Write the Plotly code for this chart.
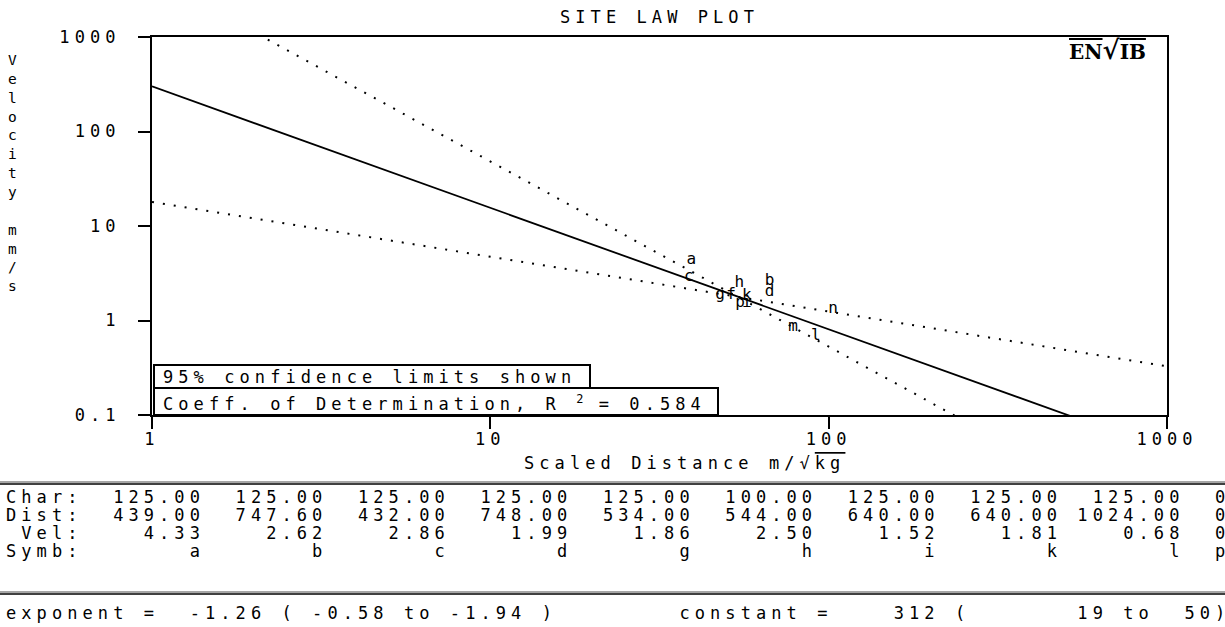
import numpy as np
import plotly.graph_objects as go

# ---------------- data ----------------
title_text = "SITE LAW PLOT"
x_title_main = "Scaled Distance m/√"
x_title_root = "kg"
y_title = "Velocity mm/s"

x_tickvals = [1, 10, 100, 1000]
x_ticktext = ["1", "10", "100", "1000"]
y_tickvals = [0.1, 1, 10, 100, 1000]
y_ticktext = ["0.1", "1", "10", "100", "1000"]

charge = [125.00, 125.00, 125.00, 125.00, 125.00, 100.00, 125.00, 125.00, 125.00]
dist = [439.00, 747.60, 432.00, 748.00, 534.00, 544.00, 640.00, 640.00, 1024.00]
vel = [4.33, 2.62, 2.86, 1.99, 1.86, 2.50, 1.52, 1.81, 0.68]
symb = ["a", "b", "c", "d", "g", "h", "i", "k", "l"]

# further events visible on the plot (scaled distance, velocity)
extra_sd = [51.5, 78.5, 103.0, 54.7]
extra_vel = [1.86, 0.853, 1.32, 1.53]
extra_symb = ["f", "m", "n", "p"]

# regression line and 95% limits as drawn (V = K * SD^b)
fit_const, fit_exp = 300.0, -1.285
lo_const, lo_exp = 18.0, -0.58
hi_const, hi_exp = 4400.0, -1.96
r_squared = 0.584
exp_txt = (-1.26, -0.58, -1.94)
const_txt = (312, 19, 50)

# ---------------- layout helpers ----------------
W, H = 1225, 627
L, R, T, B = 152, 58, 37, 212
PW, PH = W - L - R, H - T - B
FONT = "DejaVu Sans Mono"
FS = 17
LS = 15.3 - 0.602 * FS


def px(xp):
    return (xp - L) / PW


def py(yp):
    return (H - B - yp) / PH


def spaced(s, ls=LS, extra=""):
    s = s.replace(" ", "\u00a0")
    return f"<span style='letter-spacing:{ls:.2f}px;{extra}'>{s}</span>"


fig = go.Figure()

xs = np.array([1.0, 1000.0])
dot = dict(color="black", width=2, dash="2px,9px")
fig.add_trace(go.Scatter(x=xs, y=hi_const * xs ** hi_exp, mode="lines", line=dot, hoverinfo="skip"))
fig.add_trace(go.Scatter(x=xs, y=lo_const * xs ** lo_exp, mode="lines", line=dot, hoverinfo="skip"))
fig.add_trace(go.Scatter(x=xs, y=fit_const * xs ** fit_exp, mode="lines",
                         line=dict(color="black", width=1.8), hoverinfo="skip"))

sd = [d / np.sqrt(c) for d, c in zip(dist, charge)]
fig.add_trace(go.Scatter(x=sd + extra_sd, y=vel + extra_vel, mode="text",
                         text=symb + extra_symb, textposition="middle center",
                         textfont=dict(family=FONT, size=16, color="black")))

txtfont = dict(family=FONT, size=FS, color="black")
ann = []
ann.append(dict(text=spaced(title_text), x=px(659), y=py(17), xref="paper", yref="paper",
                showarrow=False, xanchor="center", yanchor="middle", font=txtfont))
ann.append(dict(text=spaced(x_title_main) + spaced(x_title_root, extra="text-decoration:overline"),
                x=px(684), y=py(463), xref="paper", yref="paper",
                showarrow=False, xanchor="center", yanchor="middle", font=txtfont))
ann.append(dict(text="<br>".join(c if c != " " else "\u00a0" for c in y_title),
                x=px(12), y=py(173), xref="paper", yref="paper",
                showarrow=False, xanchor="center", yanchor="middle",
                font=dict(family=FONT, size=14.5, color="black")))
# legend texts
ann.append(dict(text=spaced("95% confidence limits shown"), x=px(161), y=py(377),
                xref="paper", yref="paper", showarrow=False, xanchor="left", yanchor="middle",
                font=txtfont))
ann.append(dict(text=spaced("Coeff. of Determination, R ") + "<sup>2</sup>" + spaced(f" = {r_squared:.3f}"),
                x=px(161), y=py(403), xref="paper", yref="paper", showarrow=False,
                xanchor="left", yanchor="middle", font=txtfont))
# logo
ann.append(dict(text="<b><span style='text-decoration:overline'>EN</span>"
                     "<span style='font-size:26px'>√</span>"
                     "<span style='text-decoration:overline'>IB</span></b>",
                x=px(1107), y=py(50), xref="paper", yref="paper", showarrow=False,
                xanchor="center", yanchor="middle", font=dict(family="DejaVu Serif", size=20, color="black")))

# table rows
rows = [
    "Char:" + "".join(f"{v:8.2f}" for v in charge) + "  0",
    "Dist:" + "".join(f"{v:8.2f}" for v in dist) + "  0",
    " Vel:" + "".join(f"{v:8.2f}" for v in vel) + "  0",
    "Symb:" + "".join(f"{s:>8}" for s in symb) + "  p",
]
row_y = [497, 515, 533, 551]
for r_txt, yy in zip(rows, row_y):
    ann.append(dict(text=spaced(r_txt), x=px(4), y=py(yy), xref="paper", yref="paper",
                    showarrow=False, xanchor="left", yanchor="middle", font=txtfont))

bottom = (f"exponent = {exp_txt[0]:6.2f} ( {exp_txt[1]:.2f} to {exp_txt[2]:.2f} )" + " " * 8 +
          f"constant ={const_txt[0]:7d} ({const_txt[1]:9d} to{const_txt[2]:4d})")
ann.append(dict(text=spaced(bottom), x=px(4), y=py(613), xref="paper", yref="paper",
                showarrow=False, xanchor="left", yanchor="middle", font=txtfont))

shapes = []
# legend boxes
shapes.append(dict(type="rect", xref="paper", yref="paper", x0=px(154), x1=px(590),
                   y0=py(388), y1=py(365), line=dict(color="black", width=2)))
shapes.append(dict(type="rect", xref="paper", yref="paper", x0=px(154), x1=px(718),
                   y0=py(415), y1=py(388), line=dict(color="black", width=2)))
# table rules
for yy in (483, 593):
    shapes.append(dict(type="line", xref="paper", yref="paper", x0=px(0), x1=px(W),
                       y0=py(yy - 1), y1=py(yy - 1), line=dict(color="#888888", width=1.5)))
    shapes.append(dict(type="line", xref="paper", yref="paper", x0=px(0), x1=px(W),
                       y0=py(yy + 1), y1=py(yy + 1), line=dict(color="black", width=1.5)))

axis_common = dict(type="log", showline=True, linecolor="black", linewidth=2, mirror=True,
                   ticks="outside", ticklen=12, tickwidth=2, tickcolor="black",
                   showgrid=False, zeroline=False, minor=dict(ticks="", showgrid=False),
                   tickfont=dict(family=FONT, size=FS, color="black"))

fig.update_layout(
    width=W, height=H,
    margin=dict(l=L, r=R, t=T, b=B, autoexpand=False),
    paper_bgcolor="white", plot_bgcolor="white",
    showlegend=False,
    font=dict(family=FONT, size=FS, color="black"),
    xaxis=dict(range=[0, 3], tickvals=x_tickvals, ticktext=[spaced(t) for t in x_ticktext],
               ticklabelstandoff=-4, **axis_common),
    yaxis=dict(range=[-1, 3], tickvals=y_tickvals, ticktext=[spaced(t) for t in y_ticktext],
               ticklabelstandoff=14, **axis_common),
    annotations=ann,
    shapes=shapes,
)

fig.write_html("out.html", config={"displayModeBar": False},
               post_script="document.body.style.margin='0px';")
